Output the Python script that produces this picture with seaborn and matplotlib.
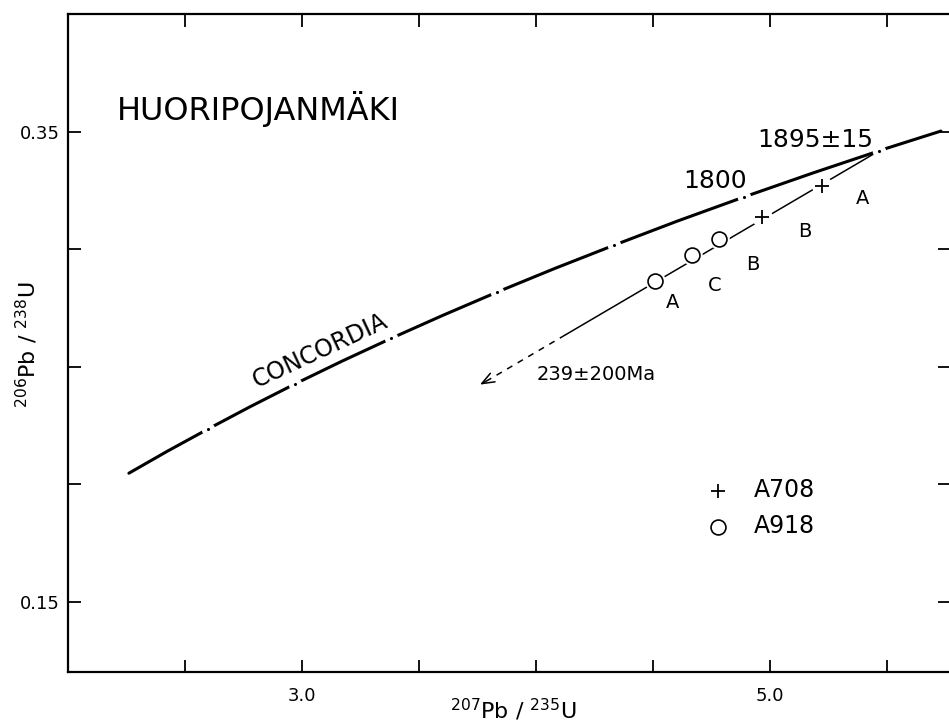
import matplotlib
matplotlib.use("Agg")
import matplotlib.pyplot as plt
import seaborn as sns

# concordia curve (207Pb/235U vs 206Pb/238U)
conc_x = [2.260, 2.425, 2.598, 2.780, 2.970, 3.171, 3.381, 3.602, 3.834,
          4.079, 4.335, 4.604, 4.887, 5.184, 5.496, 5.730]
conc_y = [0.2046, 0.2140, 0.2234, 0.2330, 0.2426, 0.2523, 0.2620, 0.2718, 0.2817,
          0.2917, 0.3017, 0.3119, 0.3221, 0.3324, 0.3428, 0.3502]

# age ticks on the concordia (1300 ... 1800 Ma) + upper intercept 1895 Ma
age_x = [2.598, 2.970, 3.381, 3.834, 4.335, 4.887, 5.464]
age_y = [0.2234, 0.2426, 0.2620, 0.2817, 0.3018, 0.3221, 0.3417]

# discordia: solid part, dashed part towards lower intercept
disc_x = [5.464, 4.124]
disc_y = [0.3417, 0.2634]
dash_x = [4.124, 3.80]
dash_y = [0.2634, 0.2445]
arrow_tip = (3.76, 0.2423)

# samples
a708_x = [5.222, 4.966]
a708_y = [0.3270, 0.3138]
a708_lab = ["A", "B"]
a918_x = [4.509, 4.667, 4.782]
a918_y = [0.2862, 0.2974, 0.3043]
a918_lab = ["A", "C", "B"]

x_ticks = [2.5, 3.0, 3.5, 4.0, 4.5, 5.0, 5.5]
x_labels = ["", "3.0", "", "", "", "5.0", ""]
y_ticks = [0.15, 0.20, 0.25, 0.30, 0.35]
y_labels = ["0.15", "", "", "", "0.35"]

sns.set_style("ticks")
plt.rcParams["font.family"] = ["DejaVu Sans"]
plt.rcParams["mathtext.default"] = "regular"
for k in ["text.color", "axes.labelcolor", "xtick.color", "ytick.color", "axes.edgecolor"]:
    plt.rcParams[k] = "black"

fig = plt.figure(figsize=(9.49, 7.24), dpi=100)
ax = fig.add_axes([0.0717, 0.0718, 0.9294, 0.9088])

# concordia
sns.lineplot(x=conc_x, y=conc_y, sort=False, estimator=None, color="black", lw=2.2, ax=ax)
ax.scatter(age_x, age_y, s=95, color="white", zorder=3, linewidths=0)
ax.scatter(age_x, age_y, s=5, color="black", zorder=4, linewidths=0)

# discordia
sns.lineplot(x=disc_x, y=disc_y, sort=False, estimator=None, color="black", lw=1.1, ax=ax)
sns.lineplot(x=dash_x, y=dash_y, sort=False, estimator=None, color="black", lw=1.1,
             ax=ax, linestyle=(0, (4, 4)))
ax.annotate("", xy=arrow_tip, xytext=(dash_x[1], dash_y[1]),
            arrowprops=dict(arrowstyle="->,head_length=0.9,head_width=0.35", lw=1.1, color="black",
                            shrinkA=0, shrinkB=0))

# white halos to break the line around points
ax.scatter(a708_x + a918_x, a708_y + a918_y, s=220, color="white", zorder=5, linewidths=0)
sns.scatterplot(x=a708_x, y=a708_y, marker="+", s=110, color="black", linewidth=1.3,
                zorder=6, ax=ax, label="A708")
sns.scatterplot(x=a918_x, y=a918_y, marker="o", s=115, facecolor="white", edgecolor="black",
                linewidth=1.2, zorder=6, ax=ax, label="A918")

# point letters
a708_off = [(0.175, -0.0055), (0.184, -0.0064)]
a918_off = [(0.076, -0.0090), (0.098, -0.0129), (0.145, -0.0109)]
for x, y, t, (dx, dy) in zip(a708_x, a708_y, a708_lab, a708_off):
    ax.text(x + dx, y + dy, t, fontsize=14, ha="center", va="center")
for x, y, t, (dx, dy) in zip(a918_x, a918_y, a918_lab, a918_off):
    ax.text(x + dx, y + dy, t, fontsize=14, ha="center", va="center")

ax.text(2.209, 0.3594, "HUORIPOJANMÄKI", fontsize=23, ha="left", va="center")
ax.text(4.765, 0.3291, "1800", fontsize=18, ha="center", va="center")
ax.text(5.192, 0.3466, "1895±15", fontsize=18, ha="center", va="center")
ax.text(4.004, 0.2466, "239±200Ma", fontsize=14, ha="left", va="center")
ax.text(3.077, 0.2568, "CONCORDIA", fontsize=17, ha="center", va="center",
        rotation=25, rotation_mode="anchor")

ax.set_xlim(2.0, 5.769)
ax.set_ylim(0.12, 0.40)
ax.set_xticks(x_ticks)
ax.set_xticklabels(x_labels)
ax.set_yticks(y_ticks)
ax.set_yticklabels(y_labels)
ax.tick_params(direction="in", top=True, right=True, length=9, width=1.3,
               labelsize=13, pad=11)
ax.tick_params(axis="y", pad=6)
for side in ["left", "bottom", "top"]:
    ax.spines[side].set_linewidth(1.6)
ax.spines["right"].set_visible(False)

ax.set_xlabel(r"$^{207}$Pb / $^{235}$U", fontsize=16)
ax.set_ylabel(r"$^{206}$Pb / $^{238}$U", fontsize=16)
ax.xaxis.set_label_coords(0.5045, -0.038)
ax.yaxis.set_label_coords(-0.032, 0.497)

ax.legend(loc="upper left", bbox_to_anchor=(0.70, 0.327), frameon=False, fontsize=17,
          handlelength=1.0, handletextpad=1.0, labelspacing=0.5)

fig.savefig("out.png", dpi=100)
